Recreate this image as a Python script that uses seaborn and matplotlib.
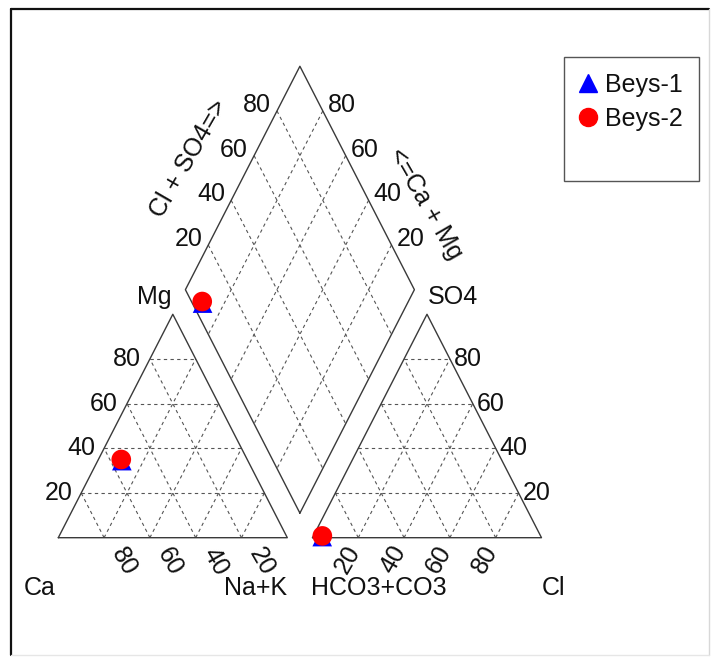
import numpy as np
import pandas as pd
import matplotlib
matplotlib.use("Agg")
import matplotlib.pyplot as plt
from matplotlib.lines import Line2D
import seaborn as sns

# ---- sample data (meq %) ----
samples = ["Beys-1", "Beys-2"]
ca = [55.0, 55.0]
mg = [34.5, 35.0]
na_k = [10.5, 10.0]
hco3_co3 = [95.5, 95.3]
so4 = [0.5, 0.8]
cl = [4.0, 3.9]

tick_values = [20, 40, 60, 80]
marker_map = {"Beys-1": "^", "Beys-2": "o"}
color_map = {"Beys-1": "blue", "Beys-2": "red"}

sns.set_style("white")
plt.rcParams["font.family"] = ["Liberation Sans", "DejaVu Sans"]

FS = 18
TXT = "#111111"
EDGE = "#3a3a3a"
GRID = "#555555"
GAP = 0.11
H = np.sqrt(3) / 2

W_PX, H_PX = 712, 657
fig = plt.figure(figsize=(W_PX / 100, H_PX / 100), dpi=100)
ax = fig.add_axes([0, 0, 1, 1])
# pixel scale of one ternary unit (horizontal / vertical)
sx, sy = 229.0, 258.0
ox, oy = 58.3, 537.7
XLIM = (-ox / sx, (W_PX - ox) / sx)
YLIM = ((oy - H_PX) / sy, oy / sy)


def cation_xy(mg_f, nak_f):
    return nak_f + mg_f / 2, mg_f * H


def anion_xy(so4_f, cl_f):
    return 1 + GAP + cl_f + so4_f / 2, so4_f * H


def diamond_xy(cx, cy, axx, ayy):
    # intersection of the projection lines from both triangles
    s_minus_t = (cy - ayy) / H
    s_plus_t = (axx - cx) / 0.5
    t = (s_plus_t - s_minus_t) / 2
    return cx + 0.5 * t, cy + H * t


# ---- outlines ----
left_tri = np.array([[0, 0], [1, 0], [0.5, H], [0, 0]])
right_tri = left_tri + np.array([1 + GAP, 0])
d_bottom = np.array([1 + GAP / 2, GAP * H])
d_left = d_bottom + np.array([-0.5, H])
d_top = d_bottom + np.array([0, 2 * H])
d_right = d_bottom + np.array([0.5, H])
diamond = np.array([d_bottom, d_left, d_top, d_right, d_bottom])
for shape in (left_tri, right_tri, diamond):
    ax.plot(shape[:, 0], shape[:, 1], color=EDGE, lw=1.0, zorder=2)

gkw = dict(color=GRID, lw=0.8, ls=(0, (3, 3)), zorder=1)

# ---- grids in the triangles ----
for x0 in (0.0, 1 + GAP):
    for v in tick_values:
        f = v / 100
        # horizontal
        ax.plot([x0 + f / 2, x0 + 1 - f / 2], [f * H, f * H], **gkw)
        # parallel to left side
        ax.plot([x0 + f, x0 + (1 + f) / 2], [0, (1 - f) * H], **gkw)
        # parallel to right side
        ax.plot([x0 + f, x0 + f / 2], [0, f * H], **gkw)

# ---- grid in the diamond ----
for v in tick_values:
    f = v / 100
    a = d_left + f * (d_top - d_left)
    b = d_bottom + f * (d_right - d_bottom)
    ax.plot([a[0], b[0]], [a[1], b[1]], **gkw)
    a = d_right + f * (d_top - d_right)
    b = d_bottom + f * (d_left - d_bottom)
    ax.plot([a[0], b[0]], [a[1], b[1]], **gkw)


def label(text, xy, dx, dy, **kw):
    ax.annotate(text, xy=xy, xytext=(dx, dy), textcoords="offset pixels",
                fontsize=FS, color=TXT, **kw)


# ---- tick labels ----
for v in tick_values:
    f = v / 100
    # left triangle: Mg on the left side, Ca along the base
    label(str(v), (f / 2, f * H), -9, 0, ha="right", va="center")
    label(str(v), (1 - f, 0), 20, -24, ha="center", va="center", rotation=-60)
    # right triangle: SO4 on the right side, Cl along the base
    label(str(v), (1 + GAP + 1 - f / 2, f * H), 4, 0, ha="left", va="center")
    label(str(v), (1 + GAP + f, 0), -11, -22, ha="center", va="center", rotation=60)
    # diamond
    p = d_left + f * (d_top - d_left)
    label(str(v), tuple(p), -6, 6, ha="right", va="center")
    p = d_right + f * (d_top - d_right)
    label(str(v), tuple(p), 5, 6, ha="left", va="center")

# ---- corner / axis names ----
label("Ca", (0, 0), -3, -50, ha="right", va="center")
label("Na+K", (1, 0), 0, -50, ha="right", va="center")
label("HCO3+CO3", (1 + GAP, 0), -1, -50, ha="left", va="center")
label("Cl", (2 + GAP, 0), 0, -50, ha="left", va="center")
label("Mg", (0.5, H), -1, 17, ha="right", va="center")
label("SO4", (1.5 + GAP, H), 1, 17, ha="left", va="center")
label("Cl + SO4=>", tuple((d_left + d_top) / 2), -54, 19, ha="center",
      va="center", rotation=60)
label("<=Ca + Mg", tuple((d_right + d_top) / 2), 68, -26, ha="center",
      va="center", rotation=-60)

# ---- sample points in all three fields ----
rows = []
for i, name in enumerate(samples):
    tot_c = ca[i] + mg[i] + na_k[i]
    tot_a = hco3_co3[i] + so4[i] + cl[i]
    cx, cy = cation_xy(mg[i] / tot_c, na_k[i] / tot_c)
    axx, ayy = anion_xy(so4[i] / tot_a, cl[i] / tot_a)
    dx, dy = diamond_xy(cx, cy, axx, ayy)
    for x, y in ((cx, cy), (axx, ayy), (dx, dy)):
        rows.append({"sample": name, "x": x, "y": y})
df = pd.DataFrame(rows)

sns.scatterplot(data=df, x="x", y="y", hue="sample", style="sample",
                markers=marker_map, palette=color_map, s=200, linewidth=0,
                legend=False, zorder=5, ax=ax)
ax.set_xlim(*XLIM)
ax.set_ylim(*YLIM)
ax.set_axis_off()

# ---- legend ----
handles = [Line2D([], [], ls="none", marker=marker_map[n], color=color_map[n],
                  markersize=13) for n in samples]
handles.append(Line2D([], [], ls="none"))
leg = ax.legend(handles, samples + [" "], loc="upper left",
                bbox_to_anchor=(564 / W_PX, 1 - 56.7 / H_PX),
                bbox_transform=fig.transFigure, borderaxespad=0,
                fontsize=FS, frameon=True, fancybox=False, framealpha=1,
                edgecolor="#555555", borderpad=0.64, labelspacing=0.4,
                handlelength=0.6, handletextpad=0.4)
leg.get_frame().set_linewidth(1.0)
for t in leg.get_texts():
    t.set_color(TXT)

# ---- outer frame ----
L, T, R, B = 11 / W_PX, 1 - 9 / H_PX, 709 / W_PX, 1 - 655 / H_PX
fig.add_artist(Line2D([L, L], [B, T], color="#111111", lw=1.6, transform=fig.transFigure))
fig.add_artist(Line2D([L, R], [T, T], color="#111111", lw=1.6, transform=fig.transFigure))
fig.add_artist(Line2D([R, R], [B, T], color="#d8d8d8", lw=1.0, transform=fig.transFigure))
fig.add_artist(Line2D([L, R], [B, B], color="#e6e6e6", lw=1.0, transform=fig.transFigure))

fig.savefig("out.png", dpi=100, facecolor="white")
